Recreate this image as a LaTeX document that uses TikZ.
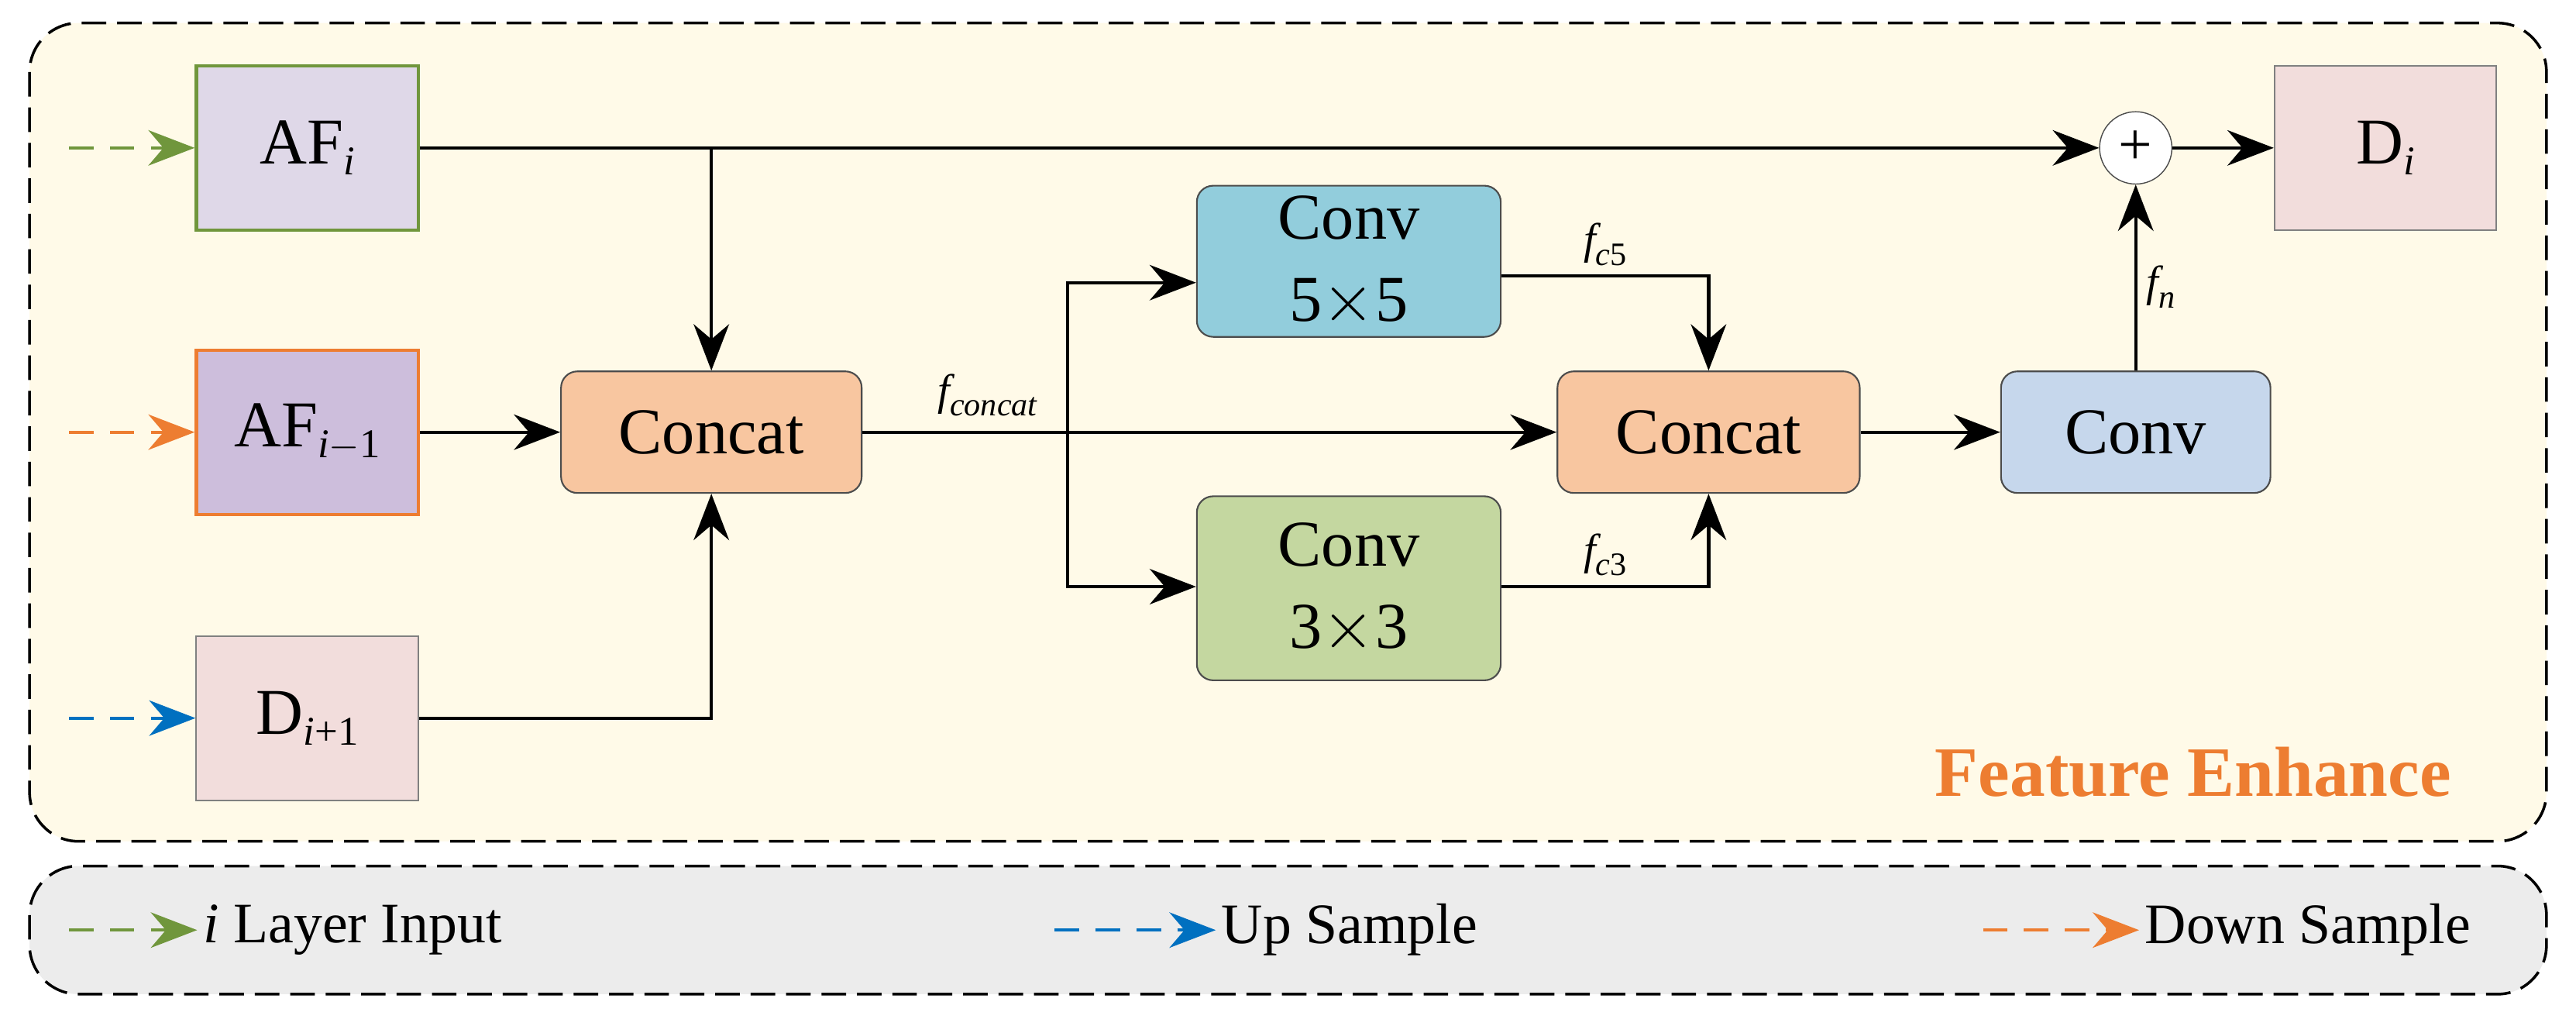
\documentclass[tikz,border=0pt]{standalone}
\usepackage{fontspec}
\setmainfont{Liberation Serif}
\usetikzlibrary{arrows.meta}
\definecolor{gr}{RGB}{112,150,60}
\definecolor{orr}{RGB}{237,125,49}
\definecolor{bl}{RGB}{0,112,192}
\definecolor{bgy}{RGB}{255,250,232}
\definecolor{bgg}{RGB}{236,236,236}
\definecolor{cat}{RGB}{248,198,160}
\definecolor{cfive}{RGB}{146,205,220}
\definecolor{cthree}{RGB}{196,215,160}
\definecolor{cconv}{RGB}{198,215,236}
\definecolor{lav}{RGB}{223,216,232}
\definecolor{pur}{RGB}{205,190,220}
\definecolor{pnk}{RGB}{242,221,220}
\newcommand\mysb[1]{\raisebox{-4pt}{\fontsize{12}{13}\selectfont #1}}
\begin{document}
\begin{tikzpicture}[x=0.0212cm,y=-0.0212cm,
 box/.style={draw=black!70,line width=0.6pt,rounded corners=6pt,font=\fontsize{24}{30}\selectfont,align=center,inner sep=0},
 sq/.style={line width=1.2pt,inner sep=0,font=\fontsize{24}{26}\selectfont},
 arr/.style={-{Stealth[length=17pt,width=13pt]},line width=1.2pt},
 din/.style={-{Stealth[length=17pt,width=13pt]},line width=1.2pt,dash pattern=on 9pt off 6pt},
 lab/.style={font=\fontsize{16}{18}\selectfont\itshape}]
\useasboundingbox (0,0) rectangle (1568,624);
\draw[dash pattern=on 9pt off 4pt,line width=1pt,rounded corners=18pt,fill=bgy] (18,14) rectangle (1550,512);
\draw[dash pattern=on 9pt off 4pt,line width=1pt,rounded corners=18pt,fill=bgg] (18,527) rectangle (1550,605);
\node[sq,draw=gr,fill=lav,minimum width=135*0.0212cm,minimum height=100*0.0212cm] (af) at (187,90) {AF\mysb{\itshape\fontsize{15}{16}\selectfont i}};
\node[sq,draw=orr,fill=pur,minimum width=135*0.0212cm,minimum height=100*0.0212cm] (afm) at (187,263) {AF\mysb{\fontsize{15}{16}\selectfont\itshape i\upshape$-$1}};
\node[sq,draw=black!50,line width=0.6pt,fill=pnk,minimum width=135*0.0212cm,minimum height=100*0.0212cm] (dp) at (187,437) {D\mysb{\fontsize{15}{16}\selectfont\itshape i\upshape+1}};
\node[sq,draw=black!50,line width=0.6pt,fill=pnk,minimum width=135*0.0212cm,minimum height=100*0.0212cm] (di) at (1452,90) {D\mysb{\itshape\fontsize{15}{16}\selectfont i}};
\node[box,fill=cat,minimum width=183*0.0212cm,minimum height=74*0.0212cm] (c1) at (433,263) {Concat};
\node[box,fill=cat,minimum width=184*0.0212cm,minimum height=74*0.0212cm] (c2) at (1040,263) {Concat};
\node[box,fill=cfive,minimum width=185*0.0212cm,minimum height=92*0.0212cm] (k5) at (821,159) {Conv\\5$\times$5};
\node[box,fill=cthree,minimum width=185*0.0212cm,minimum height=112*0.0212cm] (k3) at (821,358) {Conv\\3$\times$3};
\node[box,fill=cconv,minimum width=164*0.0212cm,minimum height=74*0.0212cm] (cv) at (1300,263) {Conv};
\node[circle,draw=black!70,fill=white,minimum size=44*0.0212cm,inner sep=0,font=\fontsize{22}{24}\selectfont] (pl) at (1300,90) {+};
\coordinate (s1) at (42,90); \coordinate (s2) at (42,263); \coordinate (s3) at (42,437);
\coordinate (j1) at (433,90); \coordinate (j2) at (650,263);
\coordinate (y172) at (0,172); \coordinate (y168) at (0,168); \coordinate (y357) at (0,357);
\draw[din,gr] (s1) -- (af.west);
\draw[din,orr] (s2) -- (afm.west);
\draw[din,bl] (s3) -- (dp.west);
\draw[arr] (af.east) -- (pl.west);
\draw[arr] (j1) -- (c1.north);
\draw[arr] (afm.east) -- (c1.west);
\draw[arr] (dp.east) -| (c1.south);
\draw[arr] (c1.east) -- node[lab,above,pos=0.18,yshift=2pt]{f\mysb{concat}} (c2.west);
\draw[arr] (j2) |- (k5.west |- y172);
\draw[arr] (j2) |- (k3.west |- y357);
\draw[arr] (k5.east |- y168) -| node[lab,above,pos=0.25]{f\mysb{c\upshape5}} (c2.north);
\draw[arr] (k3.east |- y357) -| node[lab,above,pos=0.25]{f\mysb{c\upshape3}} (c2.south);
\draw[arr] (c2.east) -- (cv.west);
\draw[arr] (cv.north) -- node[lab,right,pos=0.45]{f\mysb{n}} (pl.south);
\draw[arr] (pl.east) -- (di.west);
\node[font=\fontsize{26}{28}\selectfont\bfseries,text=orr] (fe) at (1335,470) {Feature Enhance};
\coordinate (l1a) at (42,566); \coordinate (l1b) at (120,566);
\coordinate (l2a) at (642,566); \coordinate (l2b) at (740,566);
\coordinate (l3a) at (1207,566); \coordinate (l3b) at (1302,566);
\draw[din,gr] (l1a) -- (l1b);
\draw[din,bl] (l2a) -- (l2b);
\draw[din,orr] (l3a) -- (l3b);
\node[anchor=west,font=\fontsize{21}{24}\selectfont,inner sep=2pt] (t1) at (l1b) {\textit{i} Layer Input};
\node[anchor=west,font=\fontsize{21}{24}\selectfont,inner sep=2pt] (t2) at (l2b) {Up Sample};
\node[anchor=west,font=\fontsize{21}{24}\selectfont,inner sep=2pt] (t3) at (l3b) {Down Sample};
\end{tikzpicture}
\end{document}
